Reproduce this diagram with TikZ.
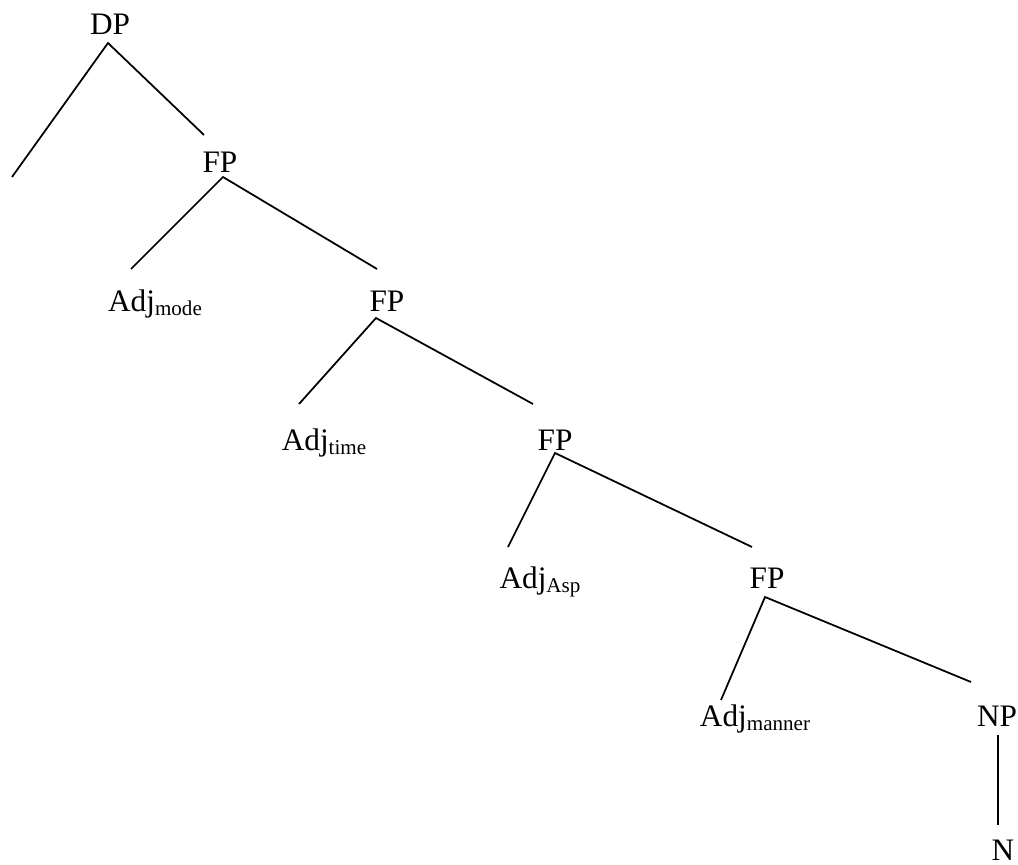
\documentclass[tikz,border=0pt]{standalone}
\usepackage{fontspec}
\setmainfont{Liberation Serif}
\usepackage{tikz}
\usetikzlibrary{calc}
\tikzstyle{catnode} = [anchor=base, inner sep=0, font=\fontsize{17.8}{20}\selectfont]
\tikzstyle{branch} = [line width=1pt]
\newcommand{\lsub}[1]{\raisebox{-0.3ex}{\fontsize{12}{12}\selectfont #1}}

\begin{document}
\begin{tikzpicture}[x=0.02cm, y=-0.02cm]
    \useasboundingbox (0,0) rectangle (1018,865);

    \node[catnode] (dp) at (110,35) {DP};
    \node[catnode] (fp_a) at ($(dp.base)+(110,138)$) {FP};
    \node[catnode] (adj_mode) at ($(fp_a.base)+(-65,138)$) {Adj\lsub{mode}};
    \node[catnode] (fp_b) at ($(fp_a.base)+(167,138)$) {FP};
    \node[catnode] (adj_time) at ($(fp_b.base)+(-63,139)$) {Adj\lsub{time}};
    \node[catnode] (fp_c) at ($(fp_b.base)+(168,139)$) {FP};
    \node[catnode] (adj_asp) at ($(fp_c.base)+(-15,138)$) {Adj\lsub{Asp}};
    \node[catnode] (fp_d) at ($(fp_c.base)+(212,138)$) {FP};
    \node[catnode] (adj_manner) at ($(fp_d.base)+(-12,138)$) {Adj\lsub{manner}};
    \node[catnode] (np) at ($(fp_d.base)+(230,138)$) {NP};
    \node[catnode] (n) at ($(np.base)+(6,134)$) {N};
    \coordinate (spec) at (12,177);

    \draw[branch] (spec) -- ($(dp.base)+(-2,8)$) -- ($(fp_a.base)+(-16,-38)$);
    \draw[branch] ($(adj_mode.base)+(-24,-42)$) -- ($(fp_a.base)+(3,4)$) -- ($(fp_b.base)+(-10,-42)$);
    \draw[branch] ($(adj_time.base)+(-25,-46)$) -- ($(fp_b.base)+(-11,7)$) -- ($(fp_c.base)+(-22,-46)$);
    \draw[branch] ($(adj_asp.base)+(-32,-41)$) -- ($(fp_c.base)+(0,3)$) -- ($(fp_d.base)+(-15,-41)$);
    \draw[branch] ($(adj_manner.base)+(-34,-26)$) -- ($(fp_d.base)+(-2,9)$) -- ($(np.base)+(-26,-44)$);
    \draw[branch] ($(np.base)+(1,9)$) -- ($(n.base)+(-5,-35)$);
\end{tikzpicture}
\end{document}
